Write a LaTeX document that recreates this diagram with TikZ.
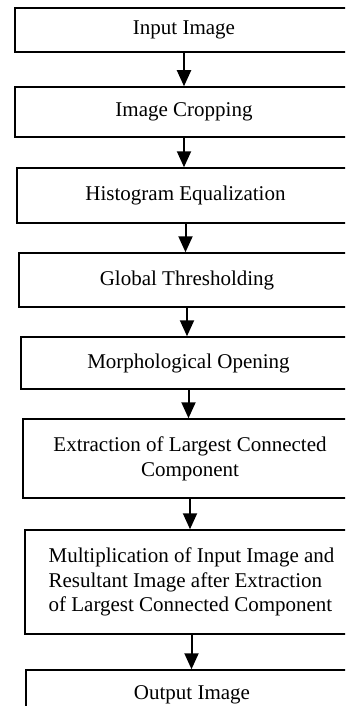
\documentclass[tikz,border=0pt]{standalone}
\usepackage{fontspec}
\setmainfont{Liberation Serif}
\usetikzlibrary{arrows.meta}

\begin{document}
\begin{tikzpicture}[
      x=0.5pt, y=0.5pt,
      stage/.style={draw, line width=0.75pt, inner sep=0pt, align=center, font=\fontsize{10.5}{12.4}\selectfont},
      arr/.style={-{Triangle[length=8pt,width=7pt]}, line width=1pt}
    ]
    % page frame, boxes run past the right edge
    \clip (0,0) rectangle (345,-706);

    % Stages, top to bottom
    \node[stage, minimum width=169pt, minimum height=22pt]   (input)  at (184,-30)    {Input Image};
    \node[stage, minimum width=169pt, minimum height=25pt]   (crop)   at (184,-112)   {Image Cropping};
    \node[stage, minimum width=168.5pt, minimum height=27.5pt] (histeq) at (185.5,-195.5) {Histogram Equalization};
    \node[stage, minimum width=168pt, minimum height=27pt]   (thresh) at (187,-280)   {Global Thresholding};
    \node[stage, minimum width=167.5pt, minimum height=26pt] (open)   at (188.5,-363) {Morphological Opening};
    \node[stage, minimum width=167pt, minimum height=39.5pt] (lcc)    at (190,-458.5) {Extraction of Largest Connected\\Component};
    \node[stage, align=left, minimum width=166.5pt, minimum height=52pt] (mult) at (191.5,-582)
      {Multiplication of Input Image and\\Resultant Image after Extraction\\of Largest Connected Component};
    \node[stage, minimum width=166pt, minimum height=25pt]   (output) at (192,-695)   {Output Image};

    % Arrows
    \draw[arr] (input.south)  -- (input.south |- crop.north);
    \draw[arr] (crop.south)   -- (crop.south |- histeq.north);
    \draw[arr] (histeq.south) -- (histeq.south |- thresh.north);
    \draw[arr] (thresh.south) -- (thresh.south |- open.north);
    \draw[arr] (open.south)   -- (open.south |- lcc.north);
    \draw[arr] (lcc.south)    -- (lcc.south |- mult.north);
    \draw[arr] (mult.south)   -- (mult.south |- output.north);
  \end{tikzpicture}
\end{document}
